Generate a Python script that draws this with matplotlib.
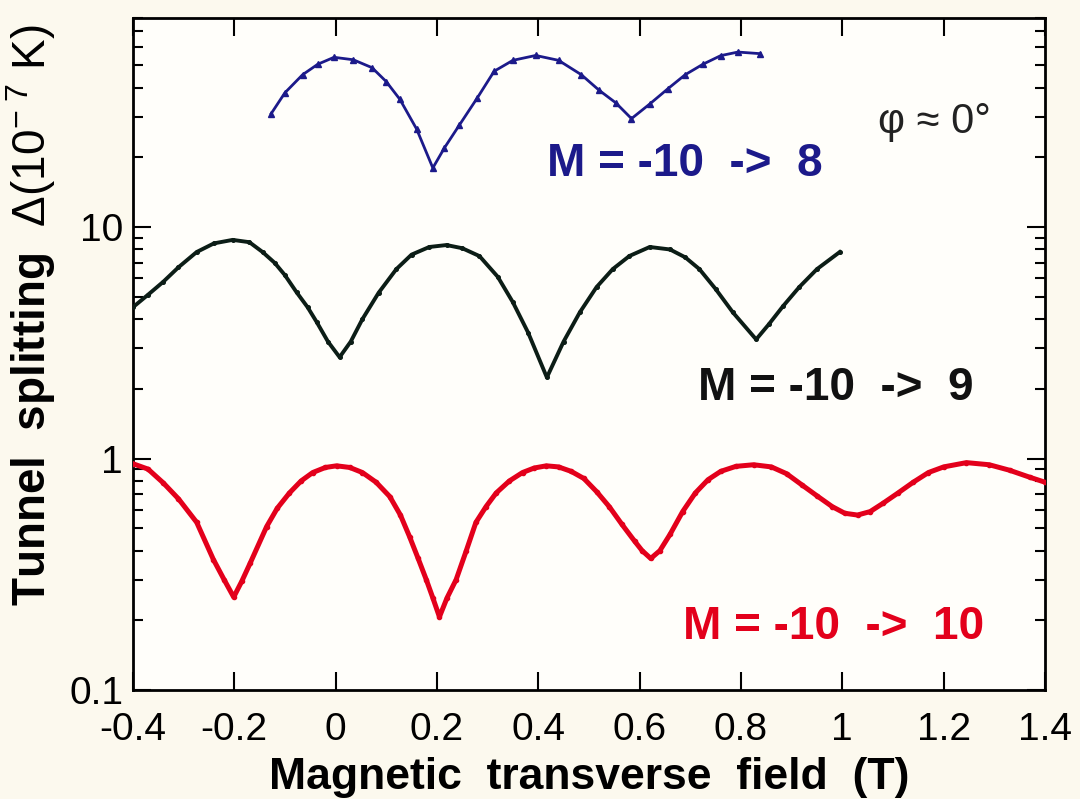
import numpy as np
import matplotlib
matplotlib.use("Agg")
import matplotlib.pyplot as plt
from matplotlib.ticker import LogLocator, NullFormatter, FixedLocator

plt.rcParams['font.family'] = ['Liberation Sans', 'DejaVu Sans']
plt.rcParams['mathtext.fontset'] = 'custom'
plt.rcParams['mathtext.rm'] = 'Liberation Sans'
plt.rcParams['mathtext.bf'] = 'Liberation Sans:bold'
plt.rcParams['mathtext.it'] = 'Liberation Sans:italic'
plt.rcParams['mathtext.default'] = 'rm'

# M = -10 -> 10 (red)
h10 = [-0.40, -0.37, -0.34, -0.31, -0.274, -0.241, -0.22, -0.201, -0.185, -0.168,
       -0.136, -0.115, -0.091, -0.068, -0.045, -0.02, 0.002, 0.028, 0.053, 0.08,
       0.107, 0.128, 0.146, 0.163, 0.179, 0.192, 0.205, 0.22, 0.238, 0.258,
       0.277, 0.297, 0.317, 0.343, 0.369, 0.392, 0.416, 0.44, 0.465, 0.49,
       0.515, 0.54, 0.565, 0.59, 0.605, 0.622, 0.64, 0.66, 0.685, 0.71,
       0.735, 0.76, 0.79, 0.825, 0.86, 0.89, 0.92, 0.95, 0.98, 1.005,
       1.03, 1.055, 1.08, 1.11, 1.14, 1.17, 1.20, 1.245, 1.29, 1.33,
       1.37, 1.40]
d10 = [0.95, 0.90, 0.785, 0.67, 0.53, 0.366, 0.30, 0.252, 0.295, 0.355,
       0.508, 0.61, 0.71, 0.80, 0.87, 0.915, 0.93, 0.915, 0.87, 0.79,
       0.685, 0.57, 0.46, 0.37, 0.30, 0.25, 0.207, 0.25, 0.30, 0.40,
       0.53, 0.62, 0.71, 0.80, 0.87, 0.91, 0.93, 0.92, 0.88, 0.82,
       0.72, 0.62, 0.52, 0.44, 0.40, 0.37, 0.40, 0.47, 0.59, 0.71,
       0.81, 0.88, 0.925, 0.94, 0.92, 0.86, 0.77, 0.69, 0.62, 0.58,
       0.57, 0.59, 0.64, 0.71, 0.79, 0.87, 0.92, 0.96, 0.94, 0.89,
       0.83, 0.79]

# M = -10 -> 9 (black)
h9 = [-0.40, -0.37, -0.34, -0.31, -0.274, -0.24, -0.203, -0.17, -0.144, -0.12,
      -0.10, -0.077, -0.055, -0.037, -0.015, 0.008, 0.03, 0.053, 0.085, 0.12,
      0.15, 0.185, 0.219, 0.25, 0.284, 0.32, 0.35, 0.38, 0.417, 0.45,
      0.482, 0.515, 0.547, 0.58, 0.62, 0.66, 0.69, 0.718, 0.75, 0.784,
      0.83, 0.855, 0.883, 0.915, 0.95, 0.995]
d9 = [4.5, 5.1, 5.8, 6.7, 7.8, 8.5, 8.8, 8.6, 7.8, 7.0,
      6.2, 5.23, 4.5, 3.88, 3.2, 2.74, 3.2, 4.0, 5.2, 6.58,
      7.6, 8.2, 8.36, 8.1, 7.49, 6.1, 4.73, 3.5, 2.24, 3.2,
      4.28, 5.5, 6.58, 7.5, 8.2, 8.0, 7.4, 6.58, 5.4, 4.28,
      3.27, 3.8, 4.55, 5.5, 6.58, 7.8]

# M = -10 -> 8 (blue)
h8 = [-0.127, -0.10, -0.065, -0.035, -0.003, 0.035, 0.072, 0.10, 0.127, 0.16,
      0.192, 0.215, 0.244, 0.28, 0.313, 0.35, 0.395, 0.44, 0.485, 0.52,
      0.553, 0.584, 0.62, 0.656, 0.69, 0.725, 0.76, 0.794, 0.838]
d8 = [30.9, 38.0, 45.5, 50.5, 54.1, 52.8, 48.8, 42.5, 35.6, 26.5,
      18.0, 22.0, 27.5, 36.2, 47.1, 52.5, 55.1, 52.5, 45.5, 39.0,
      34.4, 29.4, 34.0, 39.6, 45.5, 50.5, 55.0, 57.0, 56.1]

xticks = [-0.4, -0.2, 0, 0.2, 0.4, 0.6, 0.8, 1, 1.2, 1.4]
xticklabels = ['-0.4', '-0.2', '0', '0.2', '0.4', '0.6', '0.8', '1', '1.2', '1.4']
yticks = [0.1, 1, 10]
yticklabels = ['0.1', '1', '10']

fig = plt.figure(figsize=(10.8, 7.99), dpi=100, facecolor='#fcf9ee')
ax = fig.add_axes([0.123, 0.1364, 0.8446, 0.8411])
ax.set_facecolor('#fffefa')

ax.plot(h10, d10, color='#e3001b', lw=3.6, marker='o', ms=3, zorder=3)
ax.plot(h9, d9, color='#0c1d16', lw=2.8, marker='o', ms=2.6, zorder=3)
ax.plot(h8, d8, color='#1c1a8a', lw=2.0, marker='^', ms=4, zorder=3)

ax.set_yscale('log')
ax.set_xlim(-0.4, 1.4)
ax.set_ylim(0.1, 80)

ax.xaxis.set_major_locator(FixedLocator(xticks))
ax.set_xticklabels(xticklabels)
ax.set_yticks(yticks)
ax.set_yticklabels(yticklabels)
ax.yaxis.set_minor_locator(LogLocator(base=10, subs=np.arange(2, 10)))
ax.yaxis.set_minor_formatter(NullFormatter())

ax.tick_params(axis='both', which='major', direction='in', length=13, width=1.5,
               top=True, right=True, labelsize=28)
ax.tick_params(axis='y', which='minor', direction='in', length=7, width=1.5,
               left=True, right=True)
ax.tick_params(axis='x', which='major', pad=16)
ax.tick_params(axis='y', which='major', pad=7)
for s in ax.spines.values():
    s.set_linewidth(2)

ax.set_xlabel('Magnetic  transverse  field  (T)', fontsize=32, fontweight='bold', labelpad=6)
ax.set_ylabel(r'$\mathbf{Tunnel\ \ splitting}\ \ \Delta(10^{-\ 7}\ \mathrm{K})$', fontsize=33)
ax.yaxis.set_label_coords(-0.082, 0.558)

ax.text(0.689, 18.7, 'M = -10  ->  8', color='#1c1a8a', fontsize=33, fontweight='bold',
        ha='center', va='center')
ax.text(0.987, 2.01, 'M = -10  ->  9', color='#111111', fontsize=33, fontweight='bold',
        ha='center', va='center')
ax.text(0.983, 0.187, 'M = -10  ->  10', color='#e3001b', fontsize=33, fontweight='bold',
        ha='center', va='center')
ax.text(1.182, 28.5, 'φ ≈ 0°', color='#222222', fontsize=30, ha='center', va='center')

fig.savefig('out.png', dpi=100, facecolor=fig.get_facecolor())
